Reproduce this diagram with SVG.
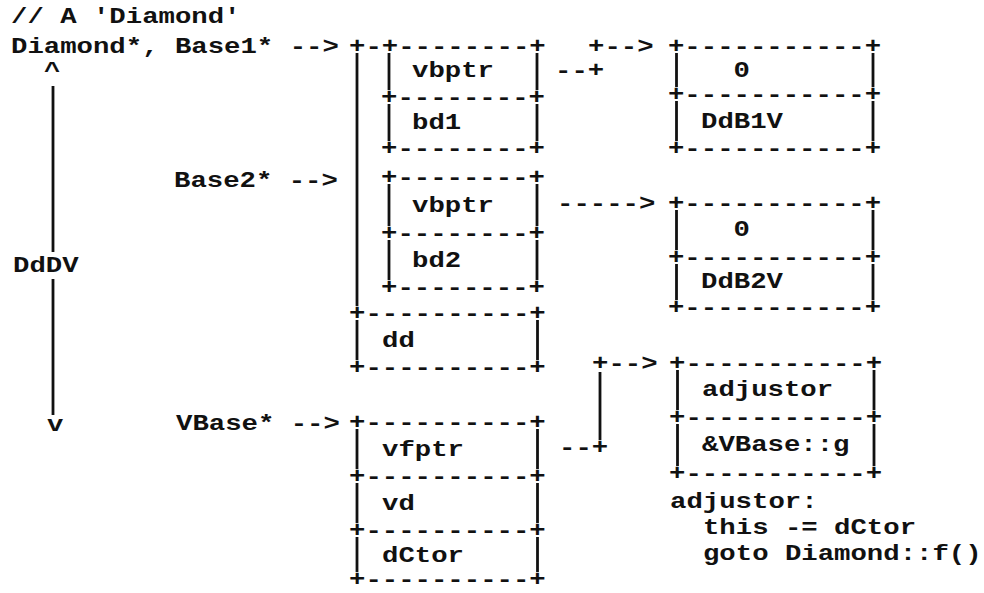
<svg xmlns="http://www.w3.org/2000/svg" width="984" height="593" viewBox="0 0 984 593">
<style>
  text { font-family: "Liberation Mono", "DejaVu Sans Mono", monospace; font-size: 22px; font-weight: bold; fill: #111; }
  .ln { stroke: #111; stroke-width: 2.8; fill: none; }
</style>
<rect width="984" height="593" fill="#fff"/>

<g id="pointer-labels">
  <g transform="scale(1.242,1)">
    <text x="8.86" y="23">// A 'Diamond'</text>
    <text x="8.86" y="53">Diamond*, Base1* --&gt;</text>
    <text x="35.43" y="78">^</text>
    <text x="140.1" y="187">Base2* --&gt;</text>
    <text x="10.47" y="272">DdDV</text>
    <text x="37.84" y="431">v</text>
    <text x="141.71" y="430">VBase* --&gt;</text>
  </g>
  <line class="ln" x1="53" y1="86" x2="53" y2="252"/>
  <line class="ln" x1="53" y1="279" x2="53" y2="415"/>
</g>

<g id="base1-subobject">
  <g transform="scale(1.242,1)">
    <text x="281" y="53">+-+--------+</text>
    <text x="331.72" y="77">vbptr</text>
    <text x="306.76" y="104">+--------+</text>
    <text x="331.72" y="129">bd1</text>
    <text x="306.76" y="155">+--------+</text>
  </g>
  <line class="ln" x1="357" y1="53" x2="357" y2="306"/>
  <line class="ln" x1="389" y1="53" x2="389" y2="90"/>
  <line class="ln" x1="537" y1="53" x2="537" y2="90"/>
  <line class="ln" x1="389" y1="104" x2="389" y2="141"/>
  <line class="ln" x1="537" y1="104" x2="537" y2="141"/>
</g>

<g id="base2-subobject">
  <g transform="scale(1.242,1)">
    <text x="306.76" y="184">+--------+</text>
    <text x="331.72" y="212">vbptr</text>
    <text x="306.76" y="240">+--------+</text>
    <text x="331.72" y="267">bd2</text>
    <text x="306.76" y="294">+--------+</text>
  </g>
  <line class="ln" x1="389" y1="184" x2="389" y2="226"/>
  <line class="ln" x1="537" y1="184" x2="537" y2="226"/>
  <line class="ln" x1="389" y1="240" x2="389" y2="280"/>
  <line class="ln" x1="537" y1="240" x2="537" y2="280"/>
</g>

<g id="dd-member">
  <g transform="scale(1.242,1)">
    <text x="281" y="320">+----------+</text>
    <text x="307.57" y="347">dd</text>
    <text x="281" y="374">+----------+</text>
  </g>
  <line class="ln" x1="357" y1="320" x2="357" y2="360"/>
  <line class="ln" x1="537.5" y1="320" x2="537.5" y2="360"/>
</g>

<g id="vbase-subobject">
  <g transform="scale(1.242,1)">
    <text x="281" y="429">+----------+</text>
    <text x="307.57" y="456">vfptr</text>
    <text x="281" y="483">+----------+</text>
    <text x="307.57" y="510">vd</text>
    <text x="281" y="537">+----------+</text>
    <text x="307.57" y="562">dCtor</text>
    <text x="281" y="586">+----------+</text>
  </g>
  <line class="ln" x1="357" y1="429" x2="357" y2="469"/>
  <line class="ln" x1="537.5" y1="429" x2="537.5" y2="469"/>
  <line class="ln" x1="357" y1="483" x2="357" y2="523"/>
  <line class="ln" x1="537.5" y1="483" x2="537.5" y2="523"/>
  <line class="ln" x1="357" y1="537" x2="357" y2="572"/>
  <line class="ln" x1="537.5" y1="537" x2="537.5" y2="572"/>
</g>

<g id="vbtable-base1">
  <g transform="scale(1.242,1)">
    <text x="537.84" y="53">+-----------+</text>
    <text x="590.66" y="77">0</text>
    <text x="537.84" y="101">+-----------+</text>
    <text x="564.41" y="128">DdB1V</text>
    <text x="537.84" y="155">+-----------+</text>
  </g>
  <line class="ln" x1="676.5" y1="53" x2="676.5" y2="87"/>
  <line class="ln" x1="873" y1="53" x2="873" y2="87"/>
  <line class="ln" x1="676.5" y1="101" x2="676.5" y2="141"/>
  <line class="ln" x1="873" y1="101" x2="873" y2="141"/>
</g>

<g id="vbtable-base2">
  <g transform="scale(1.242,1)">
    <text x="537.84" y="210">+-----------+</text>
    <text x="590.66" y="236">0</text>
    <text x="537.84" y="264">+-----------+</text>
    <text x="564.41" y="288">DdB2V</text>
    <text x="537.84" y="314">+-----------+</text>
  </g>
  <line class="ln" x1="676.5" y1="210" x2="676.5" y2="250"/>
  <line class="ln" x1="873" y1="210" x2="873" y2="250"/>
  <line class="ln" x1="676.5" y1="264" x2="676.5" y2="300"/>
  <line class="ln" x1="873" y1="264" x2="873" y2="300"/>
</g>

<g id="vftable-vbase">
  <g transform="scale(1.242,1)">
    <text x="538.65" y="370">+-----------+</text>
    <text x="565.22" y="396">adjustor</text>
    <text x="538.65" y="424">+-----------+</text>
    <text x="565.22" y="451">&amp;VBase::g</text>
    <text x="538.65" y="480">+-----------+</text>
  </g>
  <line class="ln" x1="677.5" y1="370" x2="677.5" y2="410"/>
  <line class="ln" x1="874" y1="370" x2="874" y2="410"/>
  <line class="ln" x1="677.5" y1="424" x2="677.5" y2="466"/>
  <line class="ln" x1="874" y1="424" x2="874" y2="466"/>
</g>

<g id="adjustor-thunk">
  <g transform="scale(1.242,1)">
    <text x="539.5" y="508">adjustor:</text>
    <text x="566" y="534">this -= dCtor</text>
    <text x="566" y="560">goto Diamond::f()</text>
  </g>
</g>

<g id="connectors">
  <g transform="scale(1.242,1)">
    <text x="473.43" y="53">+--&gt;</text>
    <text x="446.86" y="77">--+</text>
    <text x="448.47" y="210">-----&gt;</text>
    <text x="476.65" y="370">+--&gt;</text>
    <text x="450.08" y="454">--+</text>
  </g>
  <line class="ln" x1="600" y1="372" x2="600" y2="440"/>
</g>
</svg>
